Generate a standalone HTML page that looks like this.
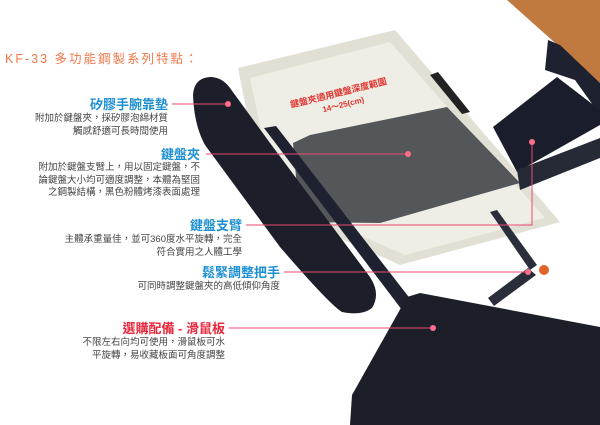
<!DOCTYPE html>
<html><head><meta charset="utf-8"><style>
body{margin:0;background:#fff;}
.w{position:relative;width:600px;height:425px;overflow:hidden;font-family:"Liberation Sans","Noto Sans CJK TC",sans-serif;}
svg{position:absolute;left:0;top:0;}
.t{position:absolute;text-align:right;white-space:nowrap;}
.h{font-size:13px;font-weight:bold;color:#1d8fd3;line-height:15px;}
.d{font-size:9.5px;color:#444;line-height:12.5px;}
</style></head><body><div class="w">
<svg width="600" height="425" viewBox="0 0 600 425">
<polygon points="507,0 600,0 600,83" fill="#c07a40"/>
<polygon points="548,40 560,45 600,83 600,115 575,80 545,70" fill="#1e2230"/>
<polygon points="238,68 395,30 560,222 400,265 265,205" fill="#e2e0d4"/>
<polygon points="250,78 390,42 545,218 405,255 275,198" fill="#efeee6"/>
<polygon points="293,143 310,135 447,107 520,183 380,223 300,222" fill="#3f4247" opacity="0.88"/>
<polygon points="430,75 438,72 470,112 462,114" fill="#222"/>
<polygon points="493,127 557,77 600,110 600,125 517,172" fill="#1a1e2c"/>
<polygon points="517,170 600,138 600,158 520,190" fill="#262a36"/>
<polygon points="264,128 276,126 415,305 402,310" fill="#1e2230"/>
<polygon points="490,212 497,210 537,265 530,270" fill="#2a2e3a"/>
<polygon points="488,298 528,268 536,275 494,306" fill="#2a2e3a"/>
<circle cx="544" cy="270" r="5" fill="#e0642a"/>
<path d="M193,95 Q194,78 210,77 Q222,77 230,88 L270,143 L367,273 Q382,292 372,308 Q362,316 342,312 Q330,305 280,247 L205,145 Q194,125 193,95Z" fill="#1c1e2a"/>
<polygon points="407,297 420,293 600,327 600,425 350,425 352,395" fill="#1c1e28"/>
<g stroke="#e84a6e" stroke-width="1" fill="none">
<line x1="172" y1="104" x2="228" y2="104"/>
<line x1="206" y1="154" x2="408" y2="154"/>
<polyline points="246,225 532,225 532,142"/>
<line x1="284" y1="272" x2="528" y2="272"/>
<line x1="229" y1="328" x2="433" y2="328"/>
</g>
<g fill="#ff6f8a"><circle cx="228" cy="104" r="3"/><circle cx="408" cy="154" r="3"/><circle cx="532" cy="142" r="3"/><circle cx="528" cy="272" r="3"/><circle cx="433" cy="328" r="3"/></g>
<text x="288" y="98" transform="rotate(-14 330 90)" font-size="9" font-weight="bold" fill="#e0302a" font-family="Liberation Sans,Noto Sans CJK TC,sans-serif">鍵盤夾適用鍵盤深度範圍</text>
<text x="318" y="110" transform="rotate(-14 330 90)" font-size="8" font-weight="bold" fill="#e0302a" font-family="Liberation Sans,sans-serif">14～25(cm)</text>
</svg>
<div class="t" style="left:5px;top:48px;font-size:12.5px;color:#f0784a;letter-spacing:2px;">KF-33 多功能鋼製系列特點：</div>
<div class="t h" style="right:432px;top:97px;">矽膠手腕靠墊</div>
<div class="t d" style="right:432px;top:113px;">附加於鍵盤夾，採矽膠泡綿材質<br>觸感舒適可長時間使用</div>
<div class="t h" style="right:400px;top:147px;">鍵盤夾</div>
<div class="t d" style="right:400px;top:162px;">附加於鍵盤支臂上，用以固定鍵盤，不<br>論鍵盤大小均可適度調整，本體為堅固<br>之鋼製結構，黑色粉體烤漆表面處理</div>
<div class="t h" style="right:358px;top:218px;">鍵盤支臂</div>
<div class="t d" style="right:358px;top:234px;">主體承重量佳，並可360度水平旋轉，完全<br>符合實用之人體工學</div>
<div class="t h" style="right:320px;top:265px;">鬆緊調整把手</div>
<div class="t d" style="right:320px;top:281px;">可同時調整鍵盤夾的高低傾仰角度</div>
<div class="t h" style="right:375px;top:321px;color:#e8283c;">選購配備 - 滑鼠板</div>
<div class="t d" style="right:375px;top:337px;">不限左右向均可使用，滑鼠板可水<br>平旋轉，易收藏板面可角度調整</div>
</div></body></html>
